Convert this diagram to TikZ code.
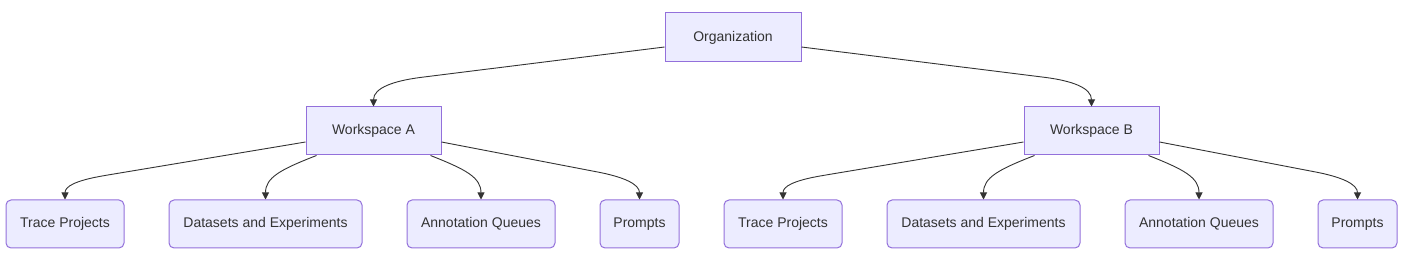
\documentclass[tikz,border=0pt]{standalone}
\usepackage{fontspec}
\setmainfont{Liberation Sans}
\usetikzlibrary{arrows.meta,calc}
\definecolor{nodefill}{HTML}{ECECFF}
\definecolor{nodeline}{HTML}{9370DB}
\definecolor{edgecol}{HTML}{333333}
\definecolor{textcol}{HTML}{333333}
\tikzset{
  box/.style={draw=nodeline, fill=nodefill, line width=1pt, inner sep=0pt,
    text=textcol, font=\fontsize{14}{16}\selectfont},
  topbox/.style={box, minimum height=48pt},
  leafbox/.style={box, minimum height=48pt, rounded corners=5pt},
  edge/.style={draw=edgecol, line width=0.9pt, -{Triangle[length=7pt,width=7pt]}},
}
\newcommand{\wsedges}[5]{%
  % #1 workspace, #2 trace, #3 datasets, #4 annotation, #5 prompts
  \draw[edge] ([yshift=-11pt]#1.west) -- ($(#2.north)+(40,-24)$)
    .. controls ($(#2.north)+(10,-19)$) and ($(#2.north)+(0,-13)$) .. (#2.north);
  \draw[edge] ([xshift=11pt]#1.south west)
    .. controls ($(#3.north)+(15,-30)$) and ($(#3.north)+(0,-22)$) .. (#3.north);
  \draw[edge] ([xshift=-11pt]#1.south east)
    .. controls ($(#4.north)+(-15,-30)$) and ($(#4.north)+(0,-22)$) .. (#4.north);
  \draw[edge] ([yshift=-11pt]#1.east) -- ($(#5.north)+(-44.5,-28)$)
    .. controls ($(#5.north)+(-14.5,-22.5)$) and ($(#5.north)+(0,-15)$) .. (#5.north);
}
\begin{document}
\begin{tikzpicture}[x=1pt,y=-1pt]
\useasboundingbox (0,0) rectangle (1403,272);
\node[topbox, minimum width=136pt, minimum height=49pt] (org) at (733,37.5) {Organization};
\node[topbox, minimum width=135pt] (wa) at (373.5,131) {Workspace A};
\node[topbox, minimum width=135pt] (wb) at (1091.5,131) {Workspace B};

\node[leafbox, minimum width=118pt] (tpa) at (65,224) {Trace Projects};
\node[leafbox, minimum width=193pt] (dsa) at (265.5,224) {Datasets and Experiments};
\node[leafbox, minimum width=148pt] (aqa) at (481,224) {Annotation Queues};
\node[leafbox, minimum width=79pt] (pra) at (639.5,224) {Prompts};

\node[leafbox, minimum width=118pt] (tpb) at (783,224) {Trace Projects};
\node[leafbox, minimum width=193pt] (dsb) at (983.5,224) {Datasets and Experiments};
\node[leafbox, minimum width=148pt] (aqb) at (1199,224) {Annotation Queues};
\node[leafbox, minimum width=79pt] (prb) at (1357.5,224) {Prompts};

\draw[edge] ([yshift=-9.5pt]org.west) -- ($(wa.north)+(46.5,-29)$)
  .. controls ($(wa.north)+(21.5,-25.7)$) and ($(wa.north)+(0,-19)$) .. (wa.north);
\draw[edge] ([yshift=-9.5pt]org.east) -- ($(wb.north)+(-45.5,-29)$)
  .. controls ($(wb.north)+(-20.5,-25.7)$) and ($(wb.north)+(0,-19)$) .. (wb.north);

\wsedges{wa}{tpa}{dsa}{aqa}{pra}
\wsedges{wb}{tpb}{dsb}{aqb}{prb}
\end{tikzpicture}
\end{document}
